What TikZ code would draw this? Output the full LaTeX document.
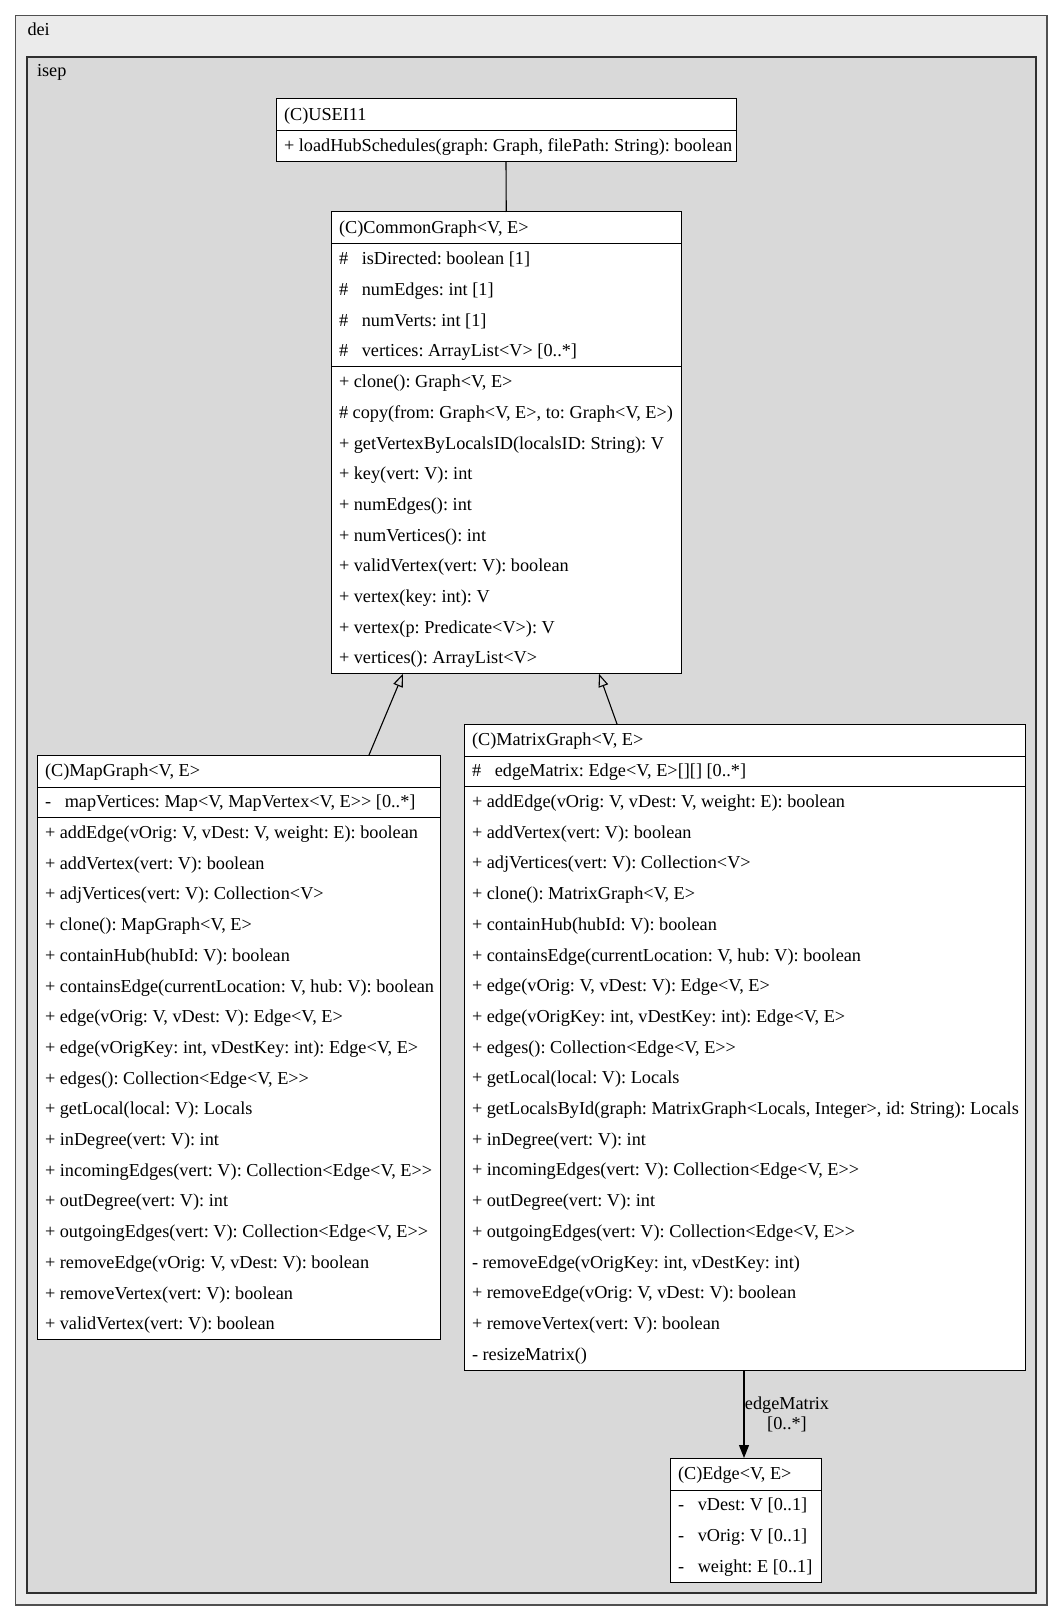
\documentclass[tikz,border=0pt]{standalone}
\usepackage{fontspec}
\usetikzlibrary{arrows.meta}
\newfontfamily\umlfamily{Liberation Serif}[Ligatures=TeXOff]
\newcommand\umlfont{\umlfamily\fontsize{18.25}{21}\selectfont\frenchspacing}
\definecolor{deifill}{HTML}{EBEBEB}
\definecolor{isepfill}{HTML}{D9D9D9}
\definecolor{deiborder}{HTML}{505050}
\definecolor{isepborder}{HTML}{303030}
\tikzset{
  pkgdei/.style={draw=deiborder, fill=deifill, line width=1.8pt, anchor=north west, inner sep=0, outer sep=0},
  pkgisep/.style={draw=isepborder, fill=isepfill, line width=1.4pt, anchor=north west, inner sep=0, outer sep=0},
  cls/.style={draw=black, fill=white, line width=1pt, anchor=north west, inner sep=0, outer sep=0},
  sep/.style={draw=black, line width=1pt},
  txt/.style={anchor=base west, inner sep=0, outer sep=0, font=\umlfont},
  conn/.style={draw=black, line width=1.1pt},
  gen/.style={conn, -{Triangle[open, length=13pt, width=10pt]}},
  assoc/.style={conn, -{Triangle[length=13pt, width=10pt]}},
}
% #1 name #2 x #3 y #4 width #5 header #6 nattr #7 attrs #8 nmeth #9 methods
\newcommand\umlclass[9]{%
  \node[cls, minimum width=#4pt, minimum height={(32+(#6+#8)*30.7)*1pt}] (#1) at (#2,#3) {};
  \node[txt] (#1-h) at (#2+8, #3+21.5) {#5};
  \draw[sep] (#2, #3+32) -- (#2+#4, #3+32);
  \ifnum#6>0
    \foreach \rtxt [count=\i] in {#7} {\node[txt] (#1-a\i) at (#2+8, #3+32+\i*30.7-9.85) {\rtxt};}
    \ifnum#8>0
      \draw[sep] (#2, #3+32+#6*30.7) -- (#2+#4, #3+32+#6*30.7);
    \fi
  \fi
  \ifnum#8>0
    \foreach \rtxt [count=\i] in {#9} {\node[txt] (#1-m\i) at (#2+8, #3+32+#6*30.7+\i*30.7-9.85) {\rtxt};}
  \fi
}
\begin{document}
\begin{tikzpicture}[x=1pt, y=-1pt]
\useasboundingbox (0,0) rectangle (1064,1621);
% packages
\node[pkgdei, minimum width=1031.5pt, minimum height=1589.5pt] (dei) at (15.5,15.5) {};
\node[txt] (deilabel) at (27.5,36) {dei};
\node[pkgisep, minimum width=1009pt, minimum height=1536pt] (isep) at (27,57) {};
\node[txt] (iseplabel) at (37,77) {isep};

\umlclass{usei}{276}{99}{460}{(C)USEI11}{0}{}{1}{{+ loadHubSchedules(graph: Graph, filePath: String): boolean}}

\umlclass{common}{331}{212}{350.5}{(C)CommonGraph<V, E>}{4}{%
{\#~~~isDirected: boolean [1]},
{\#~~~numEdges: int [1]},
{\#~~~numVerts: int [1]},
{\#~~~vertices: ArrayList<V> [0..*]}}{10}{%
{+ clone(): Graph<V, E>},
{\# copy(from: Graph<V, E>, to: Graph<V, E>)},
{+ getVertexByLocalsID(localsID: String): V},
{+ key(vert: V): int},
{+ numEdges(): int},
{+ numVertices(): int},
{+ validVertex(vert: V): boolean},
{+ vertex(key: int): V},
{+ vertex(p: Predicate<V>): V},
{+ vertices(): ArrayList<V>}}

\umlclass{map}{37}{755}{403}{(C)MapGraph<V, E>}{1}{%
{-~~~mapVertices: Map<V, MapVertex<V, E>> [0..*]}}{17}{%
{+ addEdge(vOrig: V, vDest: V, weight: E): boolean},
{+ addVertex(vert: V): boolean},
{+ adjVertices(vert: V): Collection<V>},
{+ clone(): MapGraph<V, E>},
{+ containHub(hubId: V): boolean},
{+ containsEdge(currentLocation: V, hub: V): boolean},
{+ edge(vOrig: V, vDest: V): Edge<V, E>},
{+ edge(vOrigKey: int, vDestKey: int): Edge<V, E>},
{+ edges(): Collection<Edge<V, E>>},
{+ getLocal(local: V): Locals},
{+ inDegree(vert: V): int},
{+ incomingEdges(vert: V): Collection<Edge<V, E>>},
{+ outDegree(vert: V): int},
{+ outgoingEdges(vert: V): Collection<Edge<V, E>>},
{+ removeEdge(vOrig: V, vDest: V): boolean},
{+ removeVertex(vert: V): boolean},
{+ validVertex(vert: V): boolean}}

\umlclass{matrix}{464}{724}{561}{(C)MatrixGraph<V, E>}{1}{%
{\#~~~edgeMatrix: Edge<V, E>[][] [0..*]}}{19}{%
{+ addEdge(vOrig: V, vDest: V, weight: E): boolean},
{+ addVertex(vert: V): boolean},
{+ adjVertices(vert: V): Collection<V>},
{+ clone(): MatrixGraph<V, E>},
{+ containHub(hubId: V): boolean},
{+ containsEdge(currentLocation: V, hub: V): boolean},
{+ edge(vOrig: V, vDest: V): Edge<V, E>},
{+ edge(vOrigKey: int, vDestKey: int): Edge<V, E>},
{+ edges(): Collection<Edge<V, E>>},
{+ getLocal(local: V): Locals},
{+ getLocalsById(graph: MatrixGraph<Locals, Integer>, id: String): Locals},
{+ inDegree(vert: V): int},
{+ incomingEdges(vert: V): Collection<Edge<V, E>>},
{+ outDegree(vert: V): int},
{+ outgoingEdges(vert: V): Collection<Edge<V, E>>},
{- removeEdge(vOrigKey: int, vDestKey: int)},
{+ removeEdge(vOrig: V, vDest: V): boolean},
{+ removeVertex(vert: V): boolean},
{- resizeMatrix()}}

\umlclass{edge}{670}{1458}{151}{(C)Edge<V, E>}{3}{%
{-~~~vDest: V [0..1]},
{-~~~vOrig: V [0..1]},
{-~~~weight: E [0..1]}}{0}{}

% connectors
\draw[conn] (usei.south) -- (common.north);
\draw[gen] ([xshift=332pt]map.north west) -- ([xshift=72pt]common.south west);
\draw[gen] ([xshift=153pt]matrix.north west) -- ([xshift=268pt]common.south west);
\draw[assoc] ([xshift=280pt]matrix.south west) -- ([xshift=74pt]edge.north west);
\node[txt, anchor=base] (lbl1) at (787,1409) {edgeMatrix};
\node[txt, anchor=base] (lbl2) at (787,1429) {[0..*]};
\end{tikzpicture}
\end{document}
